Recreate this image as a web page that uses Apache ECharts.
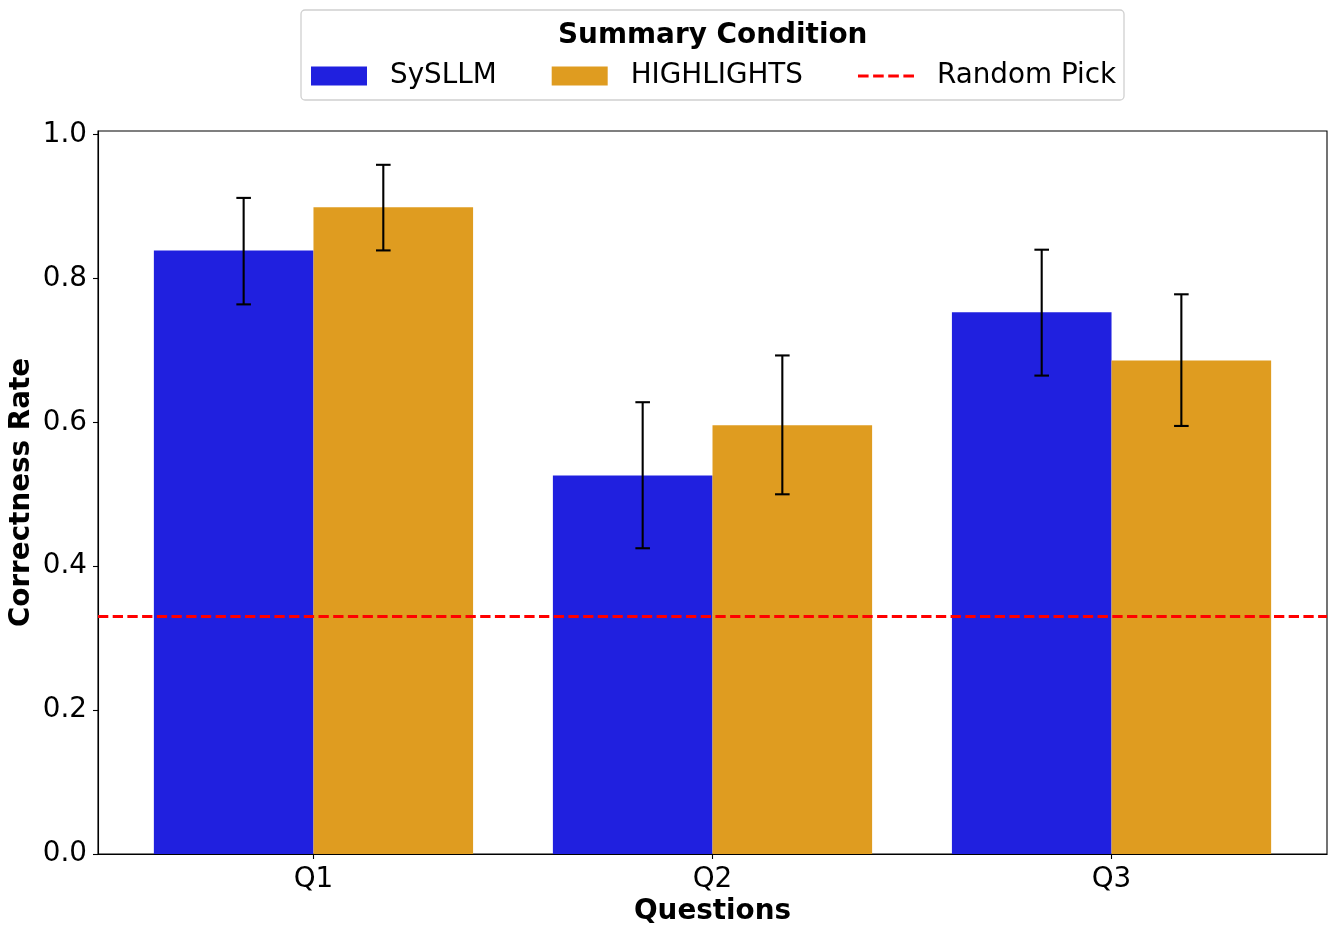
<!DOCTYPE html>
<html>
<head>
<meta charset="utf-8">
<script src="https://cdn.jsdelivr.net/npm/echarts@6/dist/echarts.min.js"></script>
<style>html,body{margin:0;padding:0;background:#fff}#chart{width:1336px;height:935px}</style>
</head>
<body>
<div id="chart"></div>
<script>
const categories = ['Q1', 'Q2', 'Q3'];
const syllmValues = [0.839, 0.526, 0.753];
const syllmLow = [0.764, 0.425, 0.665];
const syllmHigh = [0.912, 0.628, 0.840];
const highlightsValues = [0.899, 0.596, 0.686];
const highlightsLow = [0.839, 0.500, 0.595];
const highlightsHigh = [0.958, 0.693, 0.778];
const randomPick = 0.33;
const yTicks = [0, 0.2, 0.4, 0.6, 0.8, 1.0];

const FONT = 'DejaVu Sans';
const FS = 27.8;
const BLUE = '#2020df';
const ORANGE = '#df9c20';
const BAR_W = 0.4;
const ERR_OFFSET = 0.175;
const DASH_ICON = 'path://M0,0H10.3V2.8H0Z M14.7,0H25V2.8H14.7Z M29.4,0H39.7V2.8H29.4Z M44.1,0H54.4V2.8H44.1Z';

function barData(vals, lo, hi) {
  return vals.map((v, i) => [i, v, lo[i], hi[i]]);
}

function makeBarRender(side) {
  return function (params, api) {
    const x = api.value(0), y = api.value(1);
    const x0 = side < 0 ? x - BAR_W : x;
    const x1 = side < 0 ? x : x + BAR_W;
    const p0 = api.coord([x0, y]);
    const p1 = api.coord([x1, 0]);
    return {
      type: 'rect',
      shape: { x: p0[0], y: p0[1], width: p1[0] - p0[0], height: p1[1] - p0[1] },
      style: { fill: api.visual('color') }
    };
  };
}

function makeErrRender(side) {
  return function (params, api) {
    const xc = api.value(0) + side * ERR_OFFSET;
    const lo = api.coord([xc, api.value(2)]);
    const hi = api.coord([xc, api.value(3)]);
    const cap = 7.3;
    const st = { stroke: '#000', lineWidth: 2.1 };
    return {
      type: 'group',
      children: [
        { type: 'line', shape: { x1: lo[0], y1: lo[1], x2: hi[0], y2: hi[1] }, style: st },
        { type: 'line', shape: { x1: lo[0] - cap, y1: lo[1], x2: lo[0] + cap, y2: lo[1] }, style: st },
        { type: 'line', shape: { x1: hi[0] - cap, y1: hi[1], x2: hi[0] + cap, y2: hi[1] }, style: st }
      ]
    };
  };
}

const chart = echarts.init(document.getElementById('chart'), null, { renderer: 'canvas' });
chart.setOption({
  animation: false,
  backgroundColor: '#fff',
  textStyle: { fontFamily: FONT },
  graphic: [{
    type: 'rect', z: -10, silent: true,
    shape: { x: 301, y: 10, width: 823, height: 90, r: 4 },
    style: { fill: '#fff', stroke: '#d0d0d0', lineWidth: 1.3 }
  }],
  title: {
    text: 'Summary Condition',
    left: 553, top: 17,
    textStyle: { fontFamily: FONT, fontSize: 27.9, fontWeight: 'bold', color: '#000' }
  },
  legend: {
    left: 306, top: 57,
    itemWidth: 56, itemHeight: 19, itemGap: 55,
    textStyle: { fontFamily: FONT, fontSize: FS, color: '#000', padding: [0, 0, 0, 18] },
    data: [
      { name: 'SySLLM', icon: 'rect' },
      { name: 'HIGHLIGHTS', icon: 'rect' },
      { name: 'Random Pick', icon: DASH_ICON }
    ]
  },
  grid: {
    left: 98, right: 9, top: 131, bottom: 81,
    show: true, borderColor: '#000', borderWidth: 1.1,
    containLabel: false, outerBoundsMode: 'none'
  },
  xAxis: {
    type: 'value', min: -0.54, max: 2.54,
    name: 'Questions', nameLocation: 'middle', nameGap: 44, nameMoveOverlap: false,
    nameTextStyle: { fontFamily: FONT, fontSize: FS, fontWeight: 'bold', color: '#000' },
    axisLine: { show: true, onZero: false, lineStyle: { color: '#000', width: 1.1 } },
    axisTick: { show: true, length: 5, lineStyle: { color: '#000', width: 1.1 }, customValues: [0, 1, 2] },
    axisLabel: {
      show: true, customValues: [0, 1, 2], margin: 12,
      fontFamily: FONT, fontSize: FS, color: '#000',
      formatter: v => categories[Math.round(v)]
    },
    splitLine: { show: false }
  },
  yAxis: {
    type: 'value', min: 0, max: 1.005,
    name: 'Correctness Rate', nameLocation: 'middle', nameGap: 62, nameRotate: 90, nameMoveOverlap: false,
    nameTextStyle: { fontFamily: FONT, fontSize: FS, fontWeight: 'bold', color: '#000' },
    axisLine: { show: true, onZero: false, lineStyle: { color: '#000', width: 1.1 } },
    axisTick: { show: true, length: 5, lineStyle: { color: '#000', width: 1.1 }, customValues: yTicks },
    axisLabel: {
      show: true, customValues: yTicks, margin: 11,
      fontFamily: FONT, fontSize: FS, color: '#000',
      formatter: v => v.toFixed(1)
    },
    splitLine: { show: false }
  },
  series: [
    {
      name: 'SySLLM', type: 'custom', itemStyle: { color: BLUE },
      renderItem: makeBarRender(-1),
      encode: { x: 0, y: 1 },
      data: barData(syllmValues, syllmLow, syllmHigh), z: 2
    },
    {
      name: 'HIGHLIGHTS', type: 'custom', itemStyle: { color: ORANGE },
      renderItem: makeBarRender(1),
      encode: { x: 0, y: 1 },
      data: barData(highlightsValues, highlightsLow, highlightsHigh), z: 2
    },
    {
      name: 'Random Pick', type: 'line', symbol: 'none',
      itemStyle: { color: '#ff0000' },
      lineStyle: { color: '#ff0000', width: 2.8, type: [10.3, 4.4] },
      data: [], z: 3,
      markLine: {
        silent: true, symbol: 'none', label: { show: false },
        lineStyle: { color: '#ff0000', width: 2.8, type: [10.3, 4.4] },
        data: [{ yAxis: randomPick }]
      }
    },
    {
      name: 'errSySLLM', type: 'custom', renderItem: makeErrRender(-1),
      encode: { x: 0, y: [2, 3] },
      data: barData(syllmValues, syllmLow, syllmHigh), z: 4
    },
    {
      name: 'errHIGHLIGHTS', type: 'custom', renderItem: makeErrRender(1),
      encode: { x: 0, y: [2, 3] },
      data: barData(highlightsValues, highlightsLow, highlightsHigh), z: 4
    }
  ]
});
</script>
</body>
</html>
